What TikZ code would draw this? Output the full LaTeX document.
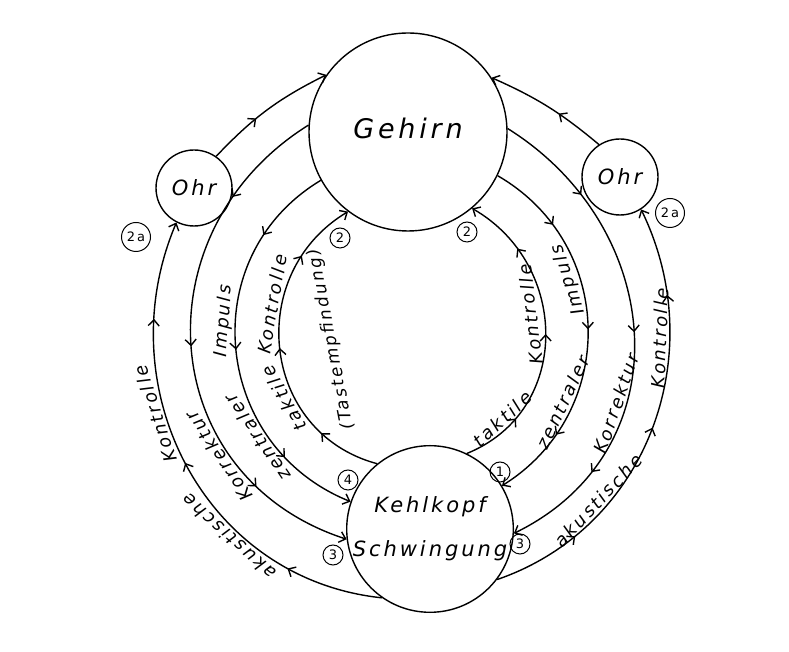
\documentclass[tikz,border=0pt]{standalone}
\usepackage{fontspec}
\newfontfamily\hand[LetterSpace=14]{DejaVu Sans}
\usetikzlibrary{arrows.meta,decorations.markings}

\tikzset{barb/.tip={Straight Barb[length=6pt, width=11pt]}}

\begin{document}
\begin{tikzpicture}[x=1pt, y=1pt, line width=1.4pt,
        every node/.style={font=\hand\itshape\fontsize{18}{20}\selectfont},
        organ/.style={circle, draw, line width=1.4pt, inner sep=0pt},
        nr/.style={circle, draw, line width=1pt, inner sep=0pt, minimum size=20pt,
            font=\hand\fontsize{13}{13}\selectfont},
        lab/.style={anchor=south, inner sep=2pt},
        aufwaerts/.style={-barb, postaction={decorate},
            decoration={markings, mark=between positions 0.2 and 0.8 step 0.3 with {\arrow{barb}}}},
        abwaerts/.style={barb-, postaction={decorate},
            decoration={markings, mark=between positions 0.2 and 0.8 step 0.3 with {\arrowreversed{barb}}}},
        kurz/.style={-barb, postaction={decorate},
            decoration={markings, mark=at position 0.4 with {\arrow{barb}}}}]
    \useasboundingbox (0,0) rectangle (789,652);
    % Organe
    \node[organ, minimum size=198pt, font=\hand\itshape\fontsize{27}{27}\selectfont] (gehirn) at (408,520) {\raisebox{7pt}{Gehirn}};
    \node[organ, minimum size=76pt, font=\hand\itshape\fontsize{21}{21}\selectfont] (ohrL) at (194,464) {Ohr};
    \node[organ, minimum size=76pt, font=\hand\itshape\fontsize{21}{21}\selectfont] (ohrR) at (620,475) {Ohr};
    \node[organ, minimum size=158pt, align=center, font=\hand\itshape\fontsize{21}{44}\selectfont] (kehl) at (430,123) {Kehlkopf\\Schwingung};
    % Nummern
    \node[nr, minimum size=29pt] (zweiaL) at (136,415) {2a};
    \node[nr, minimum size=29pt] (zweiaR) at (670,439) {2a};
    \foreach \name/\x/\y/\txt in {zweiL/340/414/2, zweiR/467/420/2, eins/500/180/1,
                                   vier/348/172/4, dreiL/333/97/3, dreiR/520/108/3}
        \node[nr] (\name) at (\x,\y) {\txt};
    % linke Seite
    \draw[aufwaerts] (kehl.235) to[out=174, in=247, looseness=1.07]
        node[lab, pos=0.33, rotate=138] {akustische}
        node[lab, pos=0.62, rotate=108] {Kontrolle} (ohrL.243);
    \draw[kurz] (ohrL.55) to[bend left=10] (gehirn.145);
    \draw[abwaerts] (kehl.187) to[out=162, in=212, looseness=1.24]
        node[lab, pos=0.28, rotate=124] {Korrektur} (gehirn.176);
    \draw[abwaerts] (kehl.161) to[out=158, in=211, looseness=1.18]
        node[lab, pos=0.27, rotate=124] {zentraler}
        node[lab, pos=0.57, rotate=86] {Impuls} (gehirn.209);
    \draw[aufwaerts] (kehl.129) to[out=165, in=211, looseness=1.22]
        node[lab, pos=0.35, rotate=119] {taktile}
        node[lab, pos=0.64, rotate=80] {Kontrolle}
        node[lab, pos=0.5, rotate=101, anchor=north, outer sep=42pt,
             font=\hand\itshape\fontsize{17}{19}\selectfont] {(Tastempfindung)} (gehirn.233);
    % rechte Seite
    \draw[aufwaerts] (kehl.64) to[out=22, in=330, looseness=1.18]
        node[lab, pos=0.16, rotate=43] {taktile}
        node[lab, pos=0.58, rotate=97, inner sep=6pt] {Kontrolle} (gehirn.-50);
    \draw[abwaerts] (kehl.31) to[out=32, in=330, looseness=1.13]
        node[lab, pos=0.28, rotate=65] {zentraler}
        node[lab, pos=0.65, rotate=108] {Impuls} (gehirn.-26);
    \draw[abwaerts] (kehl.-3) to[out=26, in=328, looseness=1.19]
        node[lab, pos=0.35, rotate=71] {Korrektur} (gehirn.2);
    \draw[aufwaerts] (kehl.-37) to[out=19, in=296, looseness=1.03]
        node[lab, pos=0.29, rotate=47] {akustische}
        node[lab, pos=0.71, rotate=88] {Kontrolle} (ohrR.-57);
    \draw[kurz] (ohrR.123) to[bend right=8] (gehirn.33);
\end{tikzpicture}
\end{document}
